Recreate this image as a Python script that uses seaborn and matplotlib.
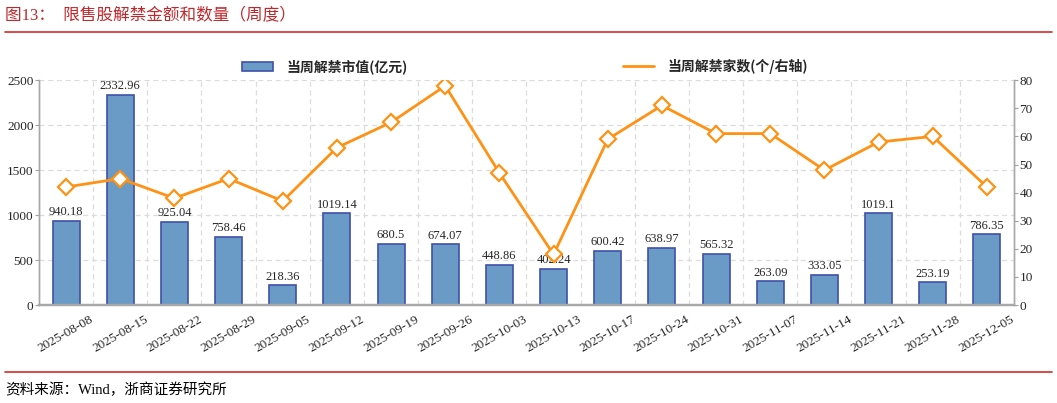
import numpy as np
import matplotlib
matplotlib.use('Agg')
import matplotlib.pyplot as plt
import seaborn as sns
from matplotlib.lines import Line2D

# data
dates = ['2025-08-08', '2025-08-15', '2025-08-22', '2025-08-29', '2025-09-05', '2025-09-12',
         '2025-09-19', '2025-09-26', '2025-10-03', '2025-10-13', '2025-10-17', '2025-10-24',
         '2025-10-31', '2025-11-07', '2025-11-14', '2025-11-21', '2025-11-28', '2025-12-05']
market_value = [940.18, 2332.96, 925.04, 758.46, 218.36, 1019.14, 680.5, 674.07, 448.86,
                402.24, 600.42, 638.97, 565.32, 263.09, 333.05, 1019.1, 253.19, 786.35]
companies = [42, 45, 38, 45, 37, 56, 65, 78, 47, 18, 59, 71, 61, 61, 48, 58, 60, 42]

bar_name = '当周解禁市值(亿元)'
line_name = '当周解禁家数(个/右轴)'

sns.set_style('white')
plt.rcParams['font.family'] = ['Liberation Serif', 'Noto Sans CJK SC']
plt.rcParams['axes.unicode_minus'] = False

fig = plt.figure(figsize=(10.57, 4.03), dpi=100)
ax = fig.add_axes([0.0369, 0.243, 0.9224, 0.558])

n = len(dates)
sns.barplot(x=np.arange(n), y=market_value, ax=ax, color='#6a9bc6', width=0.5,
            saturation=1, edgecolor='#4050a8', linewidth=1.2, label=bar_name)
ax.bar_label(ax.containers[0], fmt='%g', padding=2, fontsize=9)

ax.set_xlim(-0.5, n - 0.5)
ax.set_ylim(0, 2500)
ax.set_yticks(range(0, 2501, 500))
ax.set_xticks(range(n))
ax.set_xticklabels(dates, rotation=30, ha='center', fontsize=9.5)
ax.tick_params(axis='x', length=0, pad=6)
ax.tick_params(axis='y', length=3, labelsize=9.5, color='#a0a0a0', pad=1)

# dashed grid: horizontal at left ticks, vertical at category boundaries
for y in range(500, 2501, 500):
    ax.axhline(y, color='#dcdcdc', ls=(0, (4, 3)), lw=0.9, zorder=0)
for xb in np.arange(0.5, n - 0.5, 1):
    ax.axvline(xb, color='#dcdcdc', ls=(0, (4, 3)), lw=0.9, zorder=0)
ax.set_axisbelow(True)

ax2 = ax.twinx()
sns.lineplot(x=np.arange(n), y=companies, ax=ax2, color='#ff9214', lw=2, marker='D',
             markersize=8, markerfacecolor='white', markeredgecolor='#ff9214',
             markeredgewidth=1.6, legend=False)
ax2.set_ylim(0, 80)
ax2.set_yticks(range(0, 81, 10))
ax2.tick_params(axis='y', length=3, labelsize=9.5, color='#a0a0a0', pad=1)
ax2.set_xlim(-0.5, n - 0.5)

for a in (ax, ax2):
    a.set_xlabel('')
    a.set_ylabel('')
    a.spines['top'].set_visible(False)
    for s in ('left', 'right', 'bottom'):
        a.spines[s].set_color('#a8a8a8')
    a.spines['bottom'].set_linewidth(1.6)
    a.spines['left'].set_linewidth(1.0)
    a.spines['right'].set_linewidth(1.0)
if ax.get_legend() is not None:
    ax.get_legend().remove()

h1, l1 = ax.get_legend_handles_labels()
line_handle = Line2D([0], [0], color='#ff9214', lw=2)
fig.legend([h1[0], line_handle], [bar_name, line_name], ncol=2, loc='center',
           bbox_to_anchor=(0.497, 0.835), frameon=False, columnspacing=15.5,
           handlelength=2.2, handleheight=0.6, handletextpad=1.0,
           prop={'family': ['Noto Sans CJK SC'], 'weight': 'bold', 'size': 10})

# title, red rules and source line
fig.text(0.005, 0.962, '图13：  限售股解禁金额和数量（周度）', color='#c0282c', fontsize=12,
         va='center', ha='left', family=['Liberation Serif', 'Noto Sans CJK SC'])
fig.add_artist(Line2D([0.005, 0.995], [0.921, 0.921], color='#d42a2a', lw=1.2))
fig.add_artist(Line2D([0.005, 0.995], [0.077, 0.077], color='#d42a2a', lw=1.2))
fig.text(0.005, 0.032, '资料来源：Wind，浙商证券研究所', color='black', fontsize=10.5,
         va='center', ha='left', family=['Liberation Serif', 'Noto Sans CJK SC'])

fig.savefig('out.png', dpi=100)
